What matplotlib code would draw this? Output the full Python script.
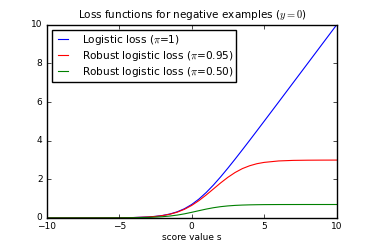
import matplotlib
matplotlib.use("Agg")
import matplotlib.pyplot as plt

plt.style.use("classic")

s_values = [-10, -9, -8, -7, -6, -5, -4, -3, -2.5, -2, -1.5, -1, -0.5, 0, 0.5, 1, 1.5,
            2, 2.5, 3, 3.5, 4, 4.5, 5, 6, 7, 8, 9, 10]
logistic = [0.0000, 0.0001, 0.0003, 0.0009, 0.0025, 0.0067, 0.018, 0.049, 0.079, 0.127,
            0.201, 0.313, 0.474, 0.693, 0.974, 1.313, 1.701, 2.127, 2.579, 3.049,
            3.530, 4.018, 4.511, 5.007, 6.002, 7.001, 8.000, 9.000, 10.000]
robust_095 = [0.0000, 0.0001, 0.0003, 0.0009, 0.0024, 0.0064, 0.017, 0.046, 0.075, 0.120,
              0.190, 0.295, 0.444, 0.644, 0.895, 1.186, 1.499, 1.813, 2.103, 2.353,
              2.554, 2.701, 2.807, 2.875, 2.950, 2.979, 2.989, 2.993, 2.995]
robust_050 = [0.0000, 0.0001, 0.0002, 0.0005, 0.0012, 0.0034, 0.009, 0.024, 0.039, 0.062,
              0.096, 0.144, 0.209, 0.288, 0.373, 0.455, 0.526, 0.581, 0.620, 0.647,
              0.664, 0.675, 0.682, 0.687, 0.691, 0.692, 0.693, 0.693, 0.693]

fig = plt.figure(figsize=(3.74, 2.49), dpi=100)
ax = fig.add_subplot(111)
fig.subplots_adjust(left=0.125, right=0.9, top=0.9, bottom=0.125)

ax.plot(s_values, logistic, color="b", lw=0.8, label=r"Logistic loss ($\pi$=1)")
ax.plot(s_values, robust_095, color="r", lw=0.8, label=r"Robust logistic loss ($\pi$=0.95)")
ax.plot(s_values, robust_050, color="g", lw=0.8, label=r"Robust logistic loss ($\pi$=0.50)")

ax.set_xlim(-10, 10)
ax.set_ylim(0, 10)
ax.set_xticks([-10, -5, 0, 5, 10])
ax.set_yticks([0, 2, 4, 6, 8, 10])
ax.tick_params(axis="x", labelsize=6.5, length=3, pad=3)
ax.tick_params(axis="y", labelsize=6.5, length=3, pad=3)
ax.set_xlabel("score value s", fontsize=6.5, labelpad=1.5)
ax.set_title(r"Loss functions for negative examples ($y=0$)", fontsize=7.5)
ax.legend(loc="upper left", fontsize=7.6, labelspacing=0.2, borderpad=0.25,
          handlelength=1.6, handletextpad=1.0, borderaxespad=0.5)

fig.savefig("out.png", dpi=100)
